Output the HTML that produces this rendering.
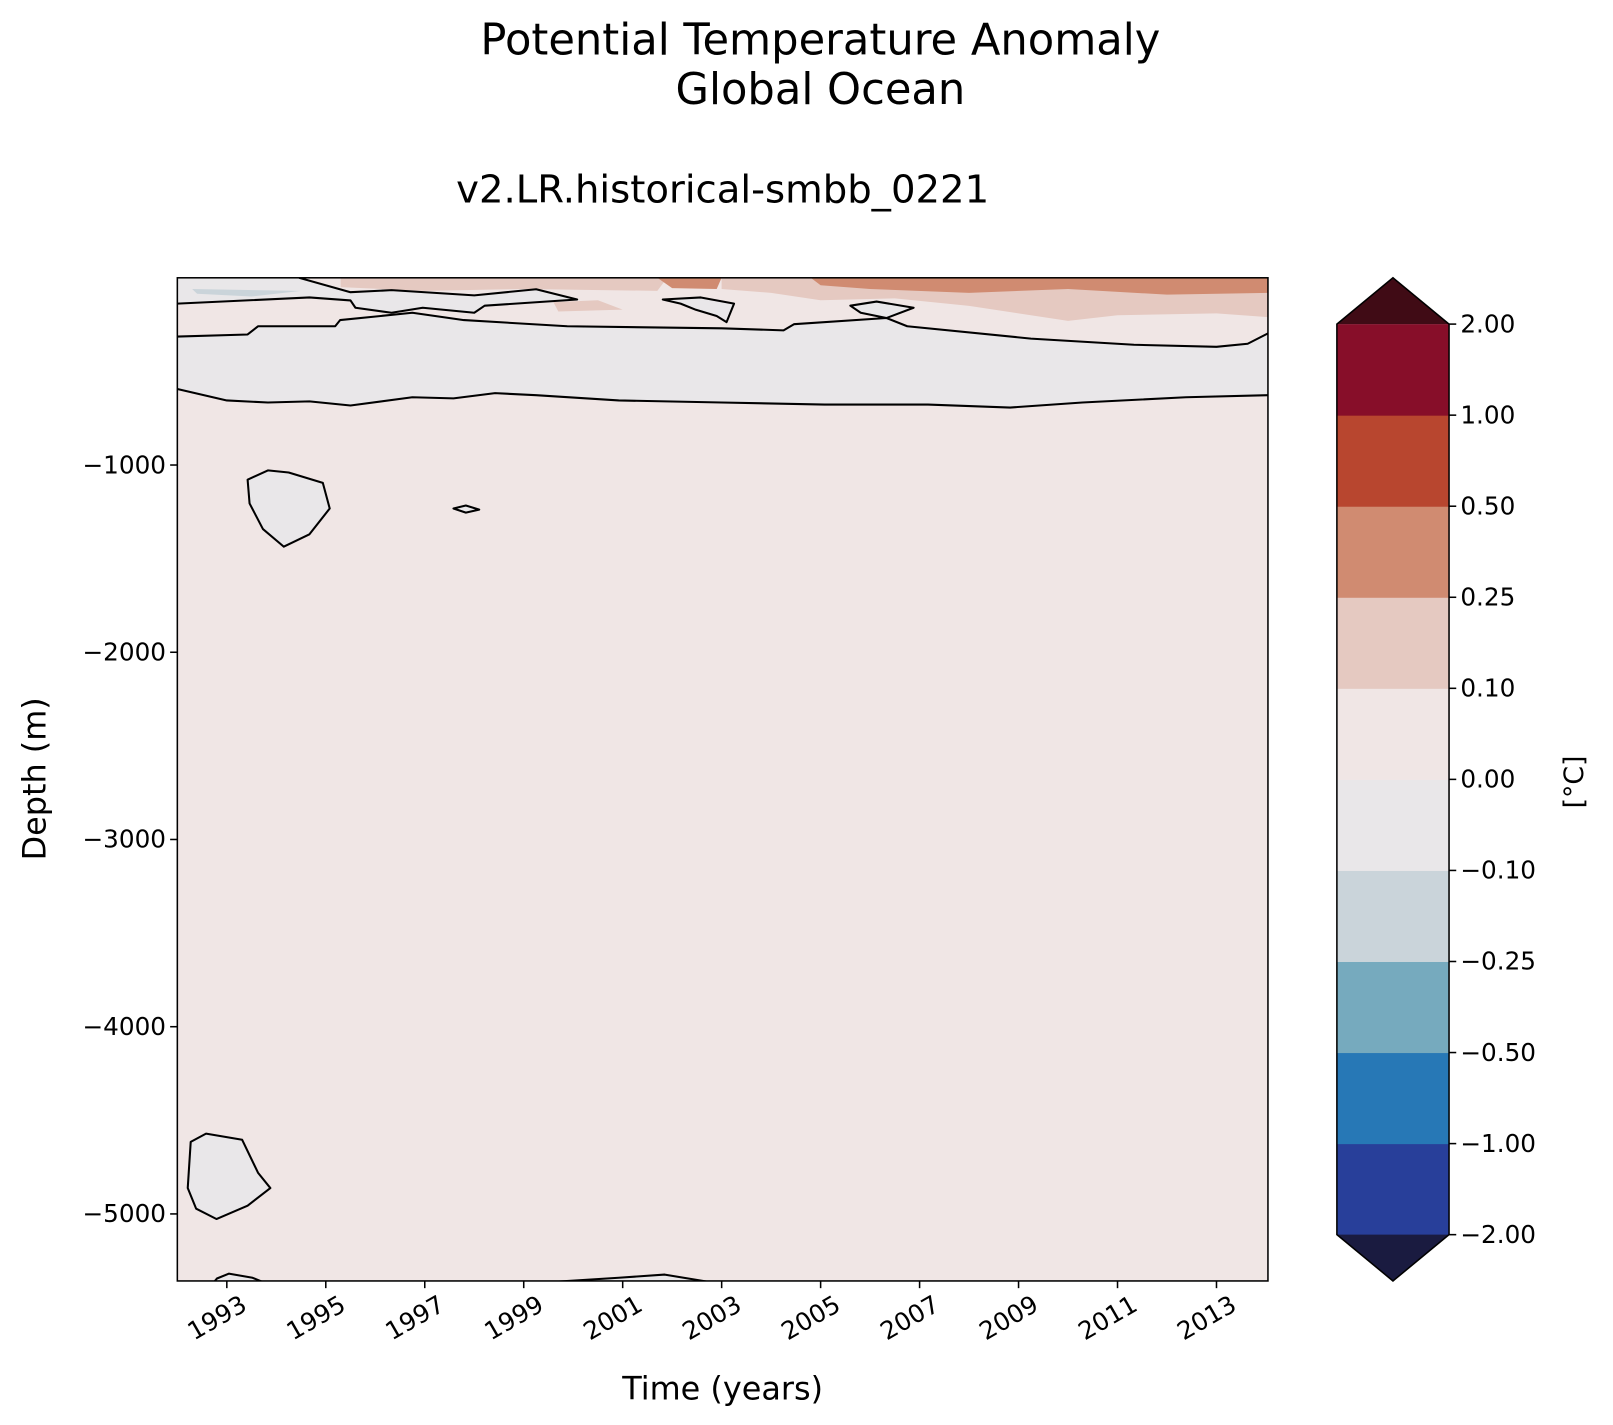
<!DOCTYPE html>
<html><head><meta charset="utf-8"><style>
html,body{margin:0;padding:0;background:#fff;}
svg{display:block;font-family:"DejaVu Sans","Liberation Sans",sans-serif;}
</style></head><body>
<svg id="chart" width="1613" height="1425" viewBox="0 0 1567 1385" xmlns="http://www.w3.org/2000/svg">
<rect width="1567" height="1385" fill="#fff"/>
<text x="797" y="53" font-size="42" text-anchor="middle">Potential Temperature Anomaly</text>
<text x="797" y="101" font-size="42" text-anchor="middle">Global Ocean</text>
<text x="702" y="197" font-size="37.5" text-anchor="middle">v2.LR.historical-smbb_0221</text>
<defs><clipPath id="pc"><rect x="172" y="270" width="1060" height="975"/></clipPath></defs>
<g id="plot" clip-path="url(#pc)"></g>
<rect x="172" y="270" width="1060" height="975" fill="none" stroke="#000" stroke-width="1.5"/>
<g id="axes"></g>
<text x="702" y="1360" font-size="31" text-anchor="middle">Time (years)</text>
<text x="44" y="757" font-size="31" text-anchor="middle" transform="rotate(-90 44 757)">Depth (m)</text>
<g id="cbar"></g>
<text x="1538" y="760" font-size="26" text-anchor="middle" transform="rotate(-90 1538 760)">[°C]</text>
</svg>
<script>
const levels = [-2, -1, -0.5, -0.25, -0.1, 0, 0.1, 0.25, 0.5, 1, 2];
const levelColors = ["#283f9a","#2778b6","#76aabe","#cad4da","#e9e7e9","#f0e6e5","#e5c9c1","#d08b71","#b8462f","#870e29"];
const underColor = "#1a1b40", overColor = "#400b15";
const xTicks = [1993,1995,1997,1999,2001,2003,2005,2007,2009,2011,2013];
const yTicks = [-1000,-2000,-3000,-4000,-5000];
const xDomain = [1992, 2014.04];
const yDomain = [0, -5358];
const greyBandTop = [[1992,-314],[1993.42,-303],[1993.63,-259],[1995.19,-259],[1995.29,-226],[1996.75,-187],[1997.79,-226],[1999.88,-259],[2003,-270],[2004.25,-281],[2004.46,-248],[2006.33,-215],[2006.75,-259],[2009.25,-325],[2011.33,-358],[2013,-369],[2013.63,-352],[2014.04,-297]];
const greyBandBottom = [[1992,-594],[1993,-655],[1993.83,-666],[1994.67,-660],[1995.5,-682],[1996.75,-638],[1997.58,-644],[1998.42,-616],[1999.25,-627],[2000.92,-655],[2003,-666],[2005.08,-677],[2007.17,-677],[2008.83,-693],[2010.29,-666],[2012.38,-638],[2014.04,-627]];
const island1 = [[1993.42,-1078],[1993.83,-1029],[1994.25,-1040],[1994.94,-1095],[1995.08,-1232],[1994.67,-1370],[1994.15,-1436],[1993.73,-1342],[1993.46,-1205]];
const sliver = [[1997.58,-1232],[1997.83,-1216],[1998.1,-1238],[1997.83,-1254]];
const island2 = [[1992.27,-4615],[1992.58,-4571],[1993.31,-4604],[1993.63,-4780],[1993.88,-4862],[1993.42,-4956],[1992.79,-5027],[1992.38,-4972],[1992.21,-4862]];
const bump1 = [[1992.69,-5380],[1992.8,-5345],[1993.04,-5319],[1993.52,-5341],[1993.88,-5380]];
const bump2 = [[1999.67,-5362],[2000.92,-5341],[2001.85,-5324],[2002.79,-5365]];
const loopA = [[2001.81,-116],[2002.58,-105],[2003.25,-138],[2003.1,-237],[2002.9,-204],[2002.48,-171],[2002.17,-138]];
const loopB = [[2005.6,-149],[2006.13,-127],[2006.88,-160],[2006.33,-215],[2005.81,-187]];
const topLeftGrey = [[1992,0],[1994.46,0],[1995.5,-77],[1996.33,-66],[1998,-94],[1999.25,-61],[2000.08,-116],[1998.21,-149],[1998,-187],[1996.96,-160],[1996.33,-187],[1995.6,-160],[1995.5,-121],[1994.67,-105],[1992,-138]];
const warmLight1 = [[1995.3,0],[2001.9,0],[2001.7,-70],[1999,-60],[1997,-70],[1995.3,-50]];
const warmLight2 = [[1999.6,-130],[2000.5,-120],[2001,-170],[1999.7,-180]];
const warmLight3 = [[2003,0],[2014.04,0],[2014.04,-210],[2013,-190],[2011,-200],[2010,-230],[2008,-150],[2006.5,-110],[2005,-120],[2004,-80],[2003,-60]];
const warmDark1 = [[2001.7,0],[2003,0],[2002.9,-60],[2002,-55]];
const warmDark2 = [[2004.8,0],[2014.04,0],[2014.04,-80],[2012,-90],[2010,-60],[2008,-80],[2006,-60],[2005,-40]];
const coolPatch = [[1992.3,-60],[1994.5,-70],[1993.5,-100],[1992.4,-85]];

const NS="http://www.w3.org/2000/svg";
const X0=172,X1=1232,Y0=270,Y1=1245;
function sx(v){return X0+(v-xDomain[0])/(xDomain[1]-xDomain[0])*(X1-X0);}
function sy(v){return Y0+(v-yDomain[0])/(yDomain[1]-yDomain[0])*(Y1-Y0);}
function pts(a){return a.map(p=>sx(p[0]).toFixed(1)+","+sy(p[1]).toFixed(1)).join(" ");}
function mk(tag,parent,attrs){const e=document.createElementNS(NS,tag);for(const k in attrs)e.setAttribute(k,attrs[k]);parent.appendChild(e);return e;}
const plot=document.getElementById('plot');
let e=mk('rect',plot,{x:X0,y:Y0,width:X1-X0,height:Y1-Y0,fill:levelColors[5]});


function poly(arr,fill,name){const p=mk('polygon',plot,{points:pts(arr),fill:fill});

return p;}
function line(arr,name,closed){const p=mk(closed?'polygon':'polyline',plot,{points:pts(arr),fill:'none',stroke:'#000','stroke-width':2,'stroke-linejoin':'round'});

return p;}
poly(warmLight1,levelColors[6],'warm-patch');
poly(warmLight2,levelColors[6],'warm-patch');
poly(warmLight3,levelColors[6],'warm-patch');
poly(warmDark1,levelColors[7],'warm-patch-strong');
poly(warmDark2,levelColors[7],'warm-patch-strong');
poly(greyBandTop.concat(greyBandBottom.slice().reverse()),levelColors[4],'cool-band');
poly(topLeftGrey,levelColors[4],'cool-region');
poly(coolPatch,levelColors[3],'cool-patch');
[loopA,loopB,island1,sliver,island2,bump1,bump2].forEach(a=>poly(a,levelColors[4],'cool-island'));
line(greyBandTop,'contour-line');
line(greyBandBottom,'contour-line');
line(topLeftGrey.slice(1),'contour-line');
[loopA,loopB,island1,sliver,island2].forEach(a=>line(a,'contour-loop',true));
line(bump1,'contour-line');line(bump2,'contour-line');
const axes=document.getElementById('axes');
xTicks.forEach(t=>{const x=sx(t);
const tk=mk('line',axes,{x1:x,x2:x,y1:Y1,y2:Y1+7,stroke:'#000','stroke-width':1.5});


const ax=x+12, ay=Y1+12;
const tx=mk('text',axes,{x:ax,y:ay,'font-size':24,'text-anchor':'end',transform:`rotate(-30 ${ax} ${ay})`,dy:'0.75em'});
tx.textContent=t;

});
yTicks.forEach(t=>{const y=sy(t);
const tk=mk('line',axes,{x1:X0-7,x2:X0,y1:y,y2:y,stroke:'#000','stroke-width':1.5});


const tx=mk('text',axes,{x:X0-11,y:y+8,'font-size':24,'text-anchor':'end'});
tx.textContent='\u2212'+Math.abs(t);

});
const cb=document.getElementById('cbar');
const CX0=1299,CX1=1408,CY0=315,CY1=1200;
const seg=(CY1-CY0)/(levels.length-1);
levelColors.forEach((c,i)=>{const r=mk('rect',cb,{x:CX0,y:CY1-(i+1)*seg,width:CX1-CX0,height:seg+0.5,fill:c});

});
let t1=mk('polygon',cb,{points:`${CX0},${CY0} ${(CX0+CX1)/2},270 ${CX1},${CY0}`,fill:overColor});


let t2=mk('polygon',cb,{points:`${CX0},${CY1} ${(CX0+CX1)/2},1245 ${CX1},${CY1}`,fill:underColor});


let ol=mk('polygon',cb,{points:`${CX0},${CY0} ${(CX0+CX1)/2},270 ${CX1},${CY0} ${CX1},${CY1} ${(CX0+CX1)/2},1245 ${CX0},${CY1}`,fill:'none',stroke:'#000','stroke-width':1.5});


levels.forEach((v,i)=>{const y=CY1-i*seg;
const tk=mk('line',cb,{x1:CX1,x2:CX1+7,y1:y,y2:y,stroke:'#000','stroke-width':1.5});


const tx=mk('text',cb,{x:CX1+11,y:y+8,'font-size':24});
tx.textContent=(v<0?'\u2212':'')+Math.abs(v).toFixed(2);

});
</script>
</body></html>
